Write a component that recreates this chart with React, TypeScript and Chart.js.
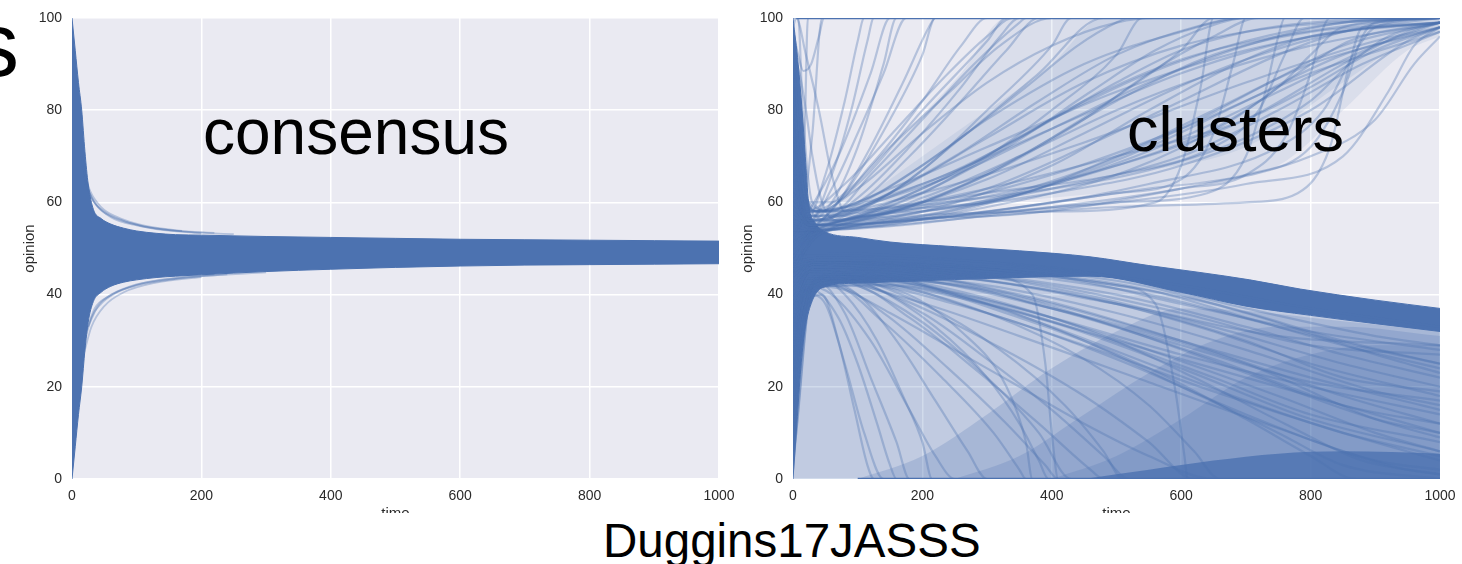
import React, { useEffect, useRef } from "react";
import { Chart, registerables } from "chart.js";

Chart.register(...registerables);

type Pt = [number, number];

const X_TICKS = [0, 200, 400, 600, 800, 1000];
const Y_TICKS = [0, 20, 40, 60, 80, 100];

// ---------- Left panel: consensus ----------
const consensusTop: Pt[] = [
  [0, 100], [5, 93], [10, 86], [15, 80], [20, 71], [25, 64], [33, 58.5], [45, 56.5], [60, 55.3],
  [80, 54.4], [100, 53.8], [130, 53.3], [160, 53], [200, 52.9], [300, 52.6], [400, 52.4],
  [500, 52.2], [600, 52], [700, 51.9], [800, 51.8], [900, 51.7], [1000, 51.6],
];
const consensusBottom: Pt[] = [
  [0, 0], [5, 7], [10, 14], [15, 20], [20, 28], [25, 34], [33, 38.5], [45, 40.5], [60, 41.8],
  [80, 42.7], [100, 43.2], [130, 43.7], [160, 44], [200, 44.3], [300, 45], [400, 45.5],
  [500, 45.9], [600, 46.2], [700, 46.4], [800, 46.5], [900, 46.6], [1000, 46.7],
];
const consensusFringe: Pt[][] = [
  [[15, 70], [25, 63], [40, 59], [60, 57], [90, 55.5], [130, 54.2], [200, 53.3]],
  [[18, 66], [30, 61], [50, 58], [80, 56], [120, 54.6], [180, 53.6], [250, 53.1]],
  [[20, 64], [35, 60], [60, 56.8], [100, 55], [150, 54], [220, 53.4]],
  [[16, 68], [28, 62.5], [45, 59], [70, 56.8], [110, 55], [170, 53.8]],
  [[20, 30], [30, 35], [45, 38], [70, 40.5], [110, 42.5], [160, 43.6], [220, 44.4]],
  [[22, 32], [35, 37], [55, 39.5], [90, 41.8], [140, 43.2], [200, 44], [300, 44.8]],
  [[25, 33], [40, 37.5], [65, 40.3], [100, 42], [160, 43.4], [240, 44.4]],
  [[18, 27], [30, 33], [50, 37.5], [80, 40.5], [130, 42.6], [200, 43.8]],
];

// ---------- Right panel: clusters ----------
const clustersBandTop: Pt[] = [
  [0, 100], [8, 90], [14, 80], [19, 70], [24, 60], [35, 55.5], [50, 53.6], [100, 52.4],
  [150, 51.4], [250, 50.4], [350, 49.5], [459, 48.2], [550, 46.3], [629, 44.8], [706, 43.2],
  [784, 41.2], [900, 38.8], [1000, 37],
];
const clustersBandBottom: Pt[] = [
  [0, 0], [6, 12], [12, 24], [18, 32], [28, 38], [45, 41.5], [100, 42.5], [200, 43], [300, 43.5],
  [459, 44], [600, 40.5], [700, 37.5], [800, 35.5], [900, 33.7], [1000, 32],
];
const clustersLowerHaze1: Pt[] = [
  [100, 0], [200, 5], [300, 14], [400, 24], [500, 32], [600, 37], [700, 36.5], [800, 35], [900, 33.5], [1000, 32],
];
const clustersLowerHaze2: Pt[] = [
  [250, 0], [350, 5], [450, 14], [550, 23], [650, 30], [750, 33], [850, 33], [1000, 31],
];
const clustersLowerHaze3: Pt[] = [
  [400, 0], [500, 5], [600, 13], [700, 22], [800, 27], [900, 29], [1000, 29],
];
const clustersBottomSolid: Pt[] = [
  [450, 0], [550, 2], [650, 4], [750, 5.5], [850, 6], [1000, 5.5],
];
const clustersFanUpperA: Pt[] = [[40, 57], [100, 64], [180, 76], [260, 88], [330, 100], [1000, 100]];
const clustersFanLowerA: Pt[] = [[40, 57], [200, 58.5], [400, 61], [600, 64], [750, 68], [850, 80], [950, 93], [1000, 96]];
const clustersFanUpperB: Pt[] = [[100, 60], [250, 75], [400, 90], [480, 100], [1000, 100]];
const clustersFanLowerB: Pt[] = [[100, 60], [300, 62], [500, 66], [700, 72], [850, 86], [950, 95], [1000, 97]];
const clustersTopEdge: Pt[] = [[5, 100], [1000, 100]];
const clustersBottomEdge: Pt[] = [[100, 0], [1000, 0]];

const clustersUpper: Pt[][] = [
  [[0, 72], [25, 56], [60, 60], [100, 72], [140, 90], [160, 100], [1000, 100]],
  [[0, 60], [25, 55], [80, 62], [150, 78], [200, 92], [220, 100], [1000, 100]],
  [[0, 85], [15, 64], [40, 58], [100, 64], [200, 80], [300, 95], [330, 100], [1000, 100]],
  [[0, 48], [25, 54], [100, 58], [200, 67], [300, 80], [400, 94], [430, 100], [1000, 100]],
  [[0, 66], [25, 55], [100, 57], [200, 62], [300, 70], [400, 80], [500, 92], [540, 100], [1000, 100]],
  [[0, 52], [30, 54], [100, 56], [200, 60], [300, 66], [400, 74], [500, 83], [600, 93], [650, 100], [1000, 100]],
  [[0, 90], [20, 60], [60, 56], [150, 58], [300, 63], [450, 72], [600, 82], [750, 92], [850, 97], [1000, 100]],
  [[0, 45], [30, 53], [100, 55], [250, 58], [400, 64], [550, 72], [700, 82], [850, 92], [1000, 98]],
  [[0, 58], [30, 54], [150, 56], [300, 60], [450, 66], [600, 74], [750, 84], [900, 94], [1000, 99]],
  [[0, 78], [20, 57], [100, 57], [200, 61], [350, 70], [500, 80], [650, 88], [800, 94], [1000, 99]],
  [[0, 40], [30, 52], [100, 55], [250, 57], [400, 60], [550, 63], [700, 66], [800, 72], [850, 84], [880, 96], [900, 99], [1000, 100]],
  [[0, 50], [30, 53], [150, 55], [300, 57], [500, 59], [700, 60], [780, 62], [830, 72], [860, 90], [880, 98], [1000, 100]],
  [[0, 95], [10, 75], [30, 58], [80, 62], [150, 72], [250, 85], [320, 94], [400, 100], [1000, 100]],
  [[0, 100], [8, 100], [15, 80], [30, 60], [60, 58], [120, 66], [200, 78], [280, 90], [350, 99], [360, 100], [1000, 100]],
  [[0, 62], [25, 56], [60, 66], [90, 80], [115, 95], [125, 100], [1000, 100]],
  [[0, 98], [5, 100], [20, 92], [40, 80], [60, 66], [80, 58], [150, 62], [260, 74], [380, 88], [480, 100], [1000, 100]],
  [[0, 55], [30, 54], [200, 58], [400, 63], [600, 70], [750, 80], [880, 90], [1000, 97]],
  [[0, 70], [25, 56], [100, 59], [250, 66], [400, 76], [550, 86], [700, 94], [850, 99], [1000, 100]],
  [[0, 46], [40, 53], [200, 57], [350, 62], [500, 68], [650, 76], [750, 85], [800, 92], [850, 98], [1000, 100]],
  [[0, 82], [20, 58], [100, 60], [200, 68], [300, 78], [450, 90], [600, 97], [700, 100], [1000, 100]],
  [[0, 57], [30, 55], [150, 58], [300, 65], [450, 75], [580, 84], [700, 91], [850, 97], [1000, 99]],
  [[0, 63], [25, 55], [300, 58], [500, 62], [600, 65], [650, 75], [680, 90], [700, 100], [1000, 100]],
  [[0, 51], [30, 54], [400, 58], [560, 60], [600, 68], [630, 85], [650, 100], [1000, 100]],
  [[0, 74], [20, 57], [120, 58], [300, 63], [500, 70], [700, 78], [800, 85], [900, 93], [1000, 98]],
  [[0, 88], [12, 66], [40, 58], [100, 60], [180, 70], [260, 82], [330, 93], [380, 100], [1000, 100]],
  [[0, 54], [30, 54], [250, 57], [500, 60], [700, 64], [850, 70], [920, 84], [960, 94], [1000, 98]],
  [[0, 67], [25, 56], [200, 59], [400, 66], [600, 76], [800, 88], [1000, 97]],
  [[0, 92], [10, 88], [20, 80], [30, 70], [45, 60], [70, 56], [200, 58], [400, 62], [600, 68], [800, 80], [950, 95], [1000, 98]],
  [[0, 53], [40, 54], [200, 60], [350, 70], [500, 82], [650, 92], [800, 97], [1000, 99]],
  [[0, 61], [25, 56], [150, 62], [300, 74], [450, 86], [600, 94], [750, 98], [1000, 100]],
  [[0, 69], [20, 57], [100, 63], [200, 75], [300, 86], [400, 94], [500, 99], [560, 100], [1000, 100]],
  [[0, 47], [35, 54], [300, 60], [500, 70], [650, 80], [800, 90], [950, 96], [1000, 98]],
  [[0, 59], [30, 55], [200, 63], [400, 78], [550, 88], [700, 95], [850, 99], [1000, 100]],
  [[0, 76], [18, 58], [80, 64], [160, 76], [240, 88], [300, 96], [340, 100], [1000, 100]],
  [[0, 50], [10, 56], [18, 75], [23, 100], [1000, 100]],
  [[0, 52], [15, 57], [30, 75], [45, 100], [1000, 100]],
  [[0, 53], [20, 57], [70, 70], [120, 88], [150, 100], [1000, 100]],
  [[0, 97], [8, 92], [16, 88.5], [28, 90], [40, 96], [48, 100], [1000, 100]],
  [[0, 56], [30, 55], [350, 59], [550, 64], [750, 72], [820, 80], [870, 93], [900, 98], [1000, 100]],
  [[0, 64], [25, 55], [150, 60], [300, 70], [450, 82], [600, 91], [750, 96], [900, 99], [1000, 100]],
  [[0, 49], [35, 54], [250, 59], [450, 67], [600, 76], [750, 87], [850, 94], [1000, 99]],
  [[0, 80], [15, 62], [60, 58], [200, 64], [400, 76], [600, 88], [800, 96], [1000, 99]],
  [[0, 57], [30, 55], [120, 60], [250, 70], [380, 82], [500, 92], [620, 98], [700, 100], [1000, 100]],
  [[0, 44], [35, 53], [300, 57], [600, 63], [800, 70], [900, 78], [960, 90], [1000, 96]],
  [[0, 71], [20, 57], [200, 62], [450, 73], [700, 86], [900, 95], [1000, 98]],
  [[0, 86], [12, 65], [40, 58], [150, 63], [300, 72], [500, 84], [700, 93], [900, 98], [1000, 99]],
  [[0, 59], [28, 55], [100, 61], [180, 72], [260, 85], [320, 96], [350, 100], [1000, 100]],
  [[0, 68], [22, 56], [100, 58], [300, 62], [500, 66], [650, 72], [720, 80], [760, 92], [790, 100], [1000, 100]],
  [[0, 55], [30, 54], [400, 59], [600, 63], [700, 66], [760, 74], [800, 88], [820, 98], [830, 100], [1000, 100]],
  [[0, 62], [25, 56], [250, 60], [500, 68], [700, 78], [850, 90], [950, 97], [1000, 99]],
  [[0, 51], [30, 54], [150, 58], [300, 66], [450, 78], [550, 88], [650, 96], [720, 100], [1000, 100]],
  [[0, 93], [8, 78], [25, 60], [60, 60], [120, 68], [200, 82], [260, 94], [300, 100], [1000, 100]],
  [[0, 48], [30, 54], [70, 60], [120, 72], [170, 86], [210, 98], [220, 100], [1000, 100]],
  [[0, 65], [25, 56], [60, 63], [100, 75], [140, 88], [175, 100], [1000, 100]],
  [[0, 56], [20, 56], [50, 66], [80, 82], [100, 95], [110, 100], [1000, 100]],
  [[0, 73], [20, 58], [350, 62], [550, 67], [700, 74], [800, 82], [860, 90], [920, 96], [1000, 99]],
  [[0, 58], [30, 55], [500, 60], [640, 62], [700, 70], [730, 84], [750, 96], [760, 100], [1000, 100]],
  [[0, 46], [40, 53], [200, 58], [400, 68], [550, 80], [700, 91], [800, 96], [1000, 99]],
  [[0, 77], [18, 58], [200, 64], [350, 74], [500, 86], [600, 93], [700, 97], [800, 99], [1000, 100]],
  [[0, 60], [30, 55], [180, 61], [320, 71], [460, 84], [560, 93], [640, 98], [700, 100], [1000, 100]],
  [[0, 54], [35, 54], [300, 59], [520, 67], [680, 78], [780, 88], [860, 95], [1000, 99]],
  [[0, 66], [22, 56], [120, 61], [240, 72], [360, 85], [440, 94], [500, 99], [520, 100], [1000, 100]],
];

const clustersLower: Pt[][] = [
  [[0, 10], [10, 25], [25, 40], [50, 38], [80, 25], [110, 10], [140, 0], [1000, 0]],
  [[0, 30], [20, 42], [60, 40], [120, 30], [180, 15], [220, 5], [250, 0], [1000, 0]],
  [[0, 38], [25, 45], [100, 42], [200, 34], [300, 22], [380, 10], [430, 0], [1000, 0]],
  [[0, 20], [15, 38], [40, 44], [150, 40], [300, 30], [450, 18], [550, 8], [620, 0], [1000, 0]],
  [[0, 45], [30, 47], [150, 44], [300, 38], [450, 30], [600, 20], [750, 10], [850, 3], [1000, 0]],
  [[0, 5], [10, 22], [30, 42], [100, 45], [250, 40], [400, 33], [550, 25], [700, 17], [850, 10], [1000, 5]],
  [[0, 42], [30, 46], [200, 44], [400, 38], [600, 30], [800, 22], [1000, 15]],
  [[0, 34], [25, 44], [150, 43], [350, 37], [550, 28], [750, 18], [900, 10], [1000, 6]],
  [[0, 15], [12, 32], [35, 43], [80, 36], [120, 22], [160, 8], [180, 0], [1000, 0]],
  [[0, 48], [40, 47], [250, 45], [500, 40], [700, 33], [850, 27], [1000, 22]],
  [[0, 25], [20, 40], [60, 44], [200, 38], [320, 28], [420, 16], [480, 6], [510, 0], [1000, 0]],
  [[0, 2], [8, 15], [25, 38], [60, 42], [140, 36], [240, 24], [330, 12], [390, 3], [410, 0], [1000, 0]],
  [[0, 40], [30, 46], [300, 43], [500, 38], [650, 32], [800, 25], [1000, 18]],
  [[0, 12], [15, 35], [50, 44], [200, 41], [400, 34], [600, 24], [800, 13], [1000, 6]],
  [[0, 36], [25, 44], [100, 40], [160, 30], [220, 17], [270, 6], [300, 0], [1000, 0]],
  [[0, 28], [20, 41], [100, 43], [300, 36], [500, 26], [700, 14], [850, 6], [950, 2], [1000, 1]],
  [[0, 46], [30, 47], [300, 44], [370, 40], [390, 25], [400, 10], [410, 0], [1000, 0]],
  [[0, 44], [30, 47], [200, 46], [500, 42], [560, 38], [590, 20], [605, 5], [610, 0], [1000, 0]],
  [[0, 8], [10, 26], [30, 43], [120, 45], [350, 40], [600, 30], [850, 18], [1000, 12]],
  [[0, 47], [40, 48], [400, 44], [650, 38], [850, 30], [1000, 25]],
  [[0, 32], [20, 42], [80, 41], [150, 36], [250, 28], [350, 20], [450, 12], [550, 5], [650, 0], [1000, 0]],
  [[0, 18], [15, 36], [45, 40], [70, 30], [95, 15], [115, 3], [125, 0], [1000, 0]],
  [[0, 43], [30, 47], [250, 45], [450, 40], [650, 33], [850, 25], [1000, 20]],
  [[0, 22], [15, 40], [70, 43], [250, 38], [450, 29], [650, 19], [850, 10], [1000, 4]],
  [[0, 4], [5, 10], [30, 42], [200, 44], [500, 38], [750, 31], [1000, 29]],
  [[0, 39], [30, 46], [350, 43], [600, 36], [800, 29], [1000, 27]],
  [[0, 49], [50, 49], [300, 47], [600, 42], [800, 37], [1000, 33]],
  [[0, 26], [20, 42], [120, 44], [400, 37], [700, 25], [900, 13], [1000, 9]],
  [[0, 41], [25, 45], [80, 40], [130, 30], [170, 18], [200, 8], [215, 0], [1000, 0]],
  [[0, 33], [25, 43], [160, 41], [260, 32], [330, 20], [360, 8], [370, 0], [1000, 0]],
  [[0, 37], [25, 45], [200, 42], [400, 35], [600, 27], [800, 20], [1000, 14]],
  [[0, 24], [15, 40], [100, 44], [300, 38], [500, 30], [700, 22], [850, 16], [1000, 10]],
  [[0, 45], [30, 47], [300, 45], [550, 40], [750, 33], [900, 28], [1000, 25]],
  [[0, 16], [12, 36], [60, 44], [250, 40], [450, 32], [650, 22], [800, 14], [1000, 8]],
  [[0, 31], [20, 43], [200, 43], [400, 37], [600, 29], [800, 21], [1000, 17]],
  [[0, 43], [30, 47], [400, 44], [600, 38], [800, 32], [1000, 28]],
  [[0, 6], [10, 25], [40, 44], [300, 41], [500, 33], [700, 23], [900, 13], [1000, 10]],
  [[0, 35], [25, 44], [250, 42], [450, 35], [650, 26], [850, 16], [1000, 12]],
  [[0, 47], [40, 48], [450, 45], [700, 37], [900, 31], [1000, 29]],
  [[0, 21], [15, 39], [80, 43], [200, 36], [300, 26], [400, 15], [480, 5], [520, 0], [1000, 0]],
  [[0, 29], [20, 42], [150, 42], [350, 35], [550, 24], [700, 13], [800, 5], [870, 0], [1000, 0]],
  [[0, 40], [30, 46], [120, 42], [220, 33], [300, 22], [350, 12], [380, 4], [395, 0], [1000, 0]],
  [[0, 13], [10, 30], [30, 41], [70, 35], [100, 25], [130, 12], [150, 3], [160, 0], [1000, 0]],
  [[0, 44], [30, 47], [350, 45], [550, 41], [700, 35], [850, 29], [1000, 24]],
  [[0, 19], [15, 38], [50, 43], [180, 39], [350, 31], [550, 21], [750, 11], [900, 4], [1000, 2]],
  [[0, 38], [25, 45], [300, 42], [500, 36], [700, 28], [900, 19], [1000, 16]],
  [[0, 9], [10, 27], [35, 43], [150, 42], [300, 36], [450, 26], [550, 16], [620, 6], [660, 0], [1000, 0]],
  [[0, 46], [35, 47], [500, 43], [700, 36], [900, 27], [1000, 23]],
  [[0, 27], [20, 41], [90, 42], [180, 35], [280, 24], [380, 12], [460, 2], [480, 0], [1000, 0]],
  [[0, 42], [30, 46], [250, 44], [500, 38], [700, 30], [850, 22], [1000, 19]],
  [[0, 23], [15, 40], [60, 42], [140, 34], [230, 22], [310, 10], [350, 2], [360, 0], [1000, 0]],
  [[0, 36], [25, 45], [180, 43], [330, 38], [480, 31], [620, 22], [760, 12], [880, 4], [1000, 1]],
];

// ---------- styling ----------
const BLUE = "rgb(76,114,176)";
const BLUE_LINE = "rgba(76,114,176,0.34)";
const BG = "#EAEAF2";
const TEXT = "#2a2a2a";
const FONT = '"Liberation Sans", Arial, Helvetica, sans-serif';

const toXY = (pts: Pt[]) => pts.map(([x, y]) => ({ x, y }));

const lineDs = (pts: Pt[], color: string, width: number) => ({
  data: toXY(pts),
  borderColor: color,
  borderWidth: width,
  pointRadius: 0,
  fill: false,
  cubicInterpolationMode: "monotone" as const,
});

const fillDs = (pts: Pt[], color: string, fill: any, border = 0) => ({
  data: toXY(pts),
  borderColor: color,
  borderWidth: border,
  backgroundColor: color,
  pointRadius: 0,
  fill,
  cubicInterpolationMode: "monotone" as const,
});

const alpha = (a: number) => `rgba(76,114,176,${a})`;

const bgPlugin = {
  id: "plotBg",
  beforeDraw(chart: any) {
    const { ctx, chartArea: a } = chart;
    ctx.save();
    ctx.fillStyle = BG;
    ctx.fillRect(a.left, a.top, a.right - a.left, a.bottom - a.top);
    ctx.restore();
  },
};

function makeOptions(yWidth: number, padRight: number): any {
  return {
    animation: false,
    responsive: false,
    maintainAspectRatio: false,
    events: [],
    layout: { padding: { top: 18, right: padRight, left: 0, bottom: 0 } },
    plugins: { legend: { display: false }, tooltip: { enabled: false } },
    scales: {
      x: {
        type: "linear",
        min: 0,
        max: 1000,
        border: { display: false },
        grid: { color: "#ffffff", lineWidth: 1.5, drawTicks: false },
        afterBuildTicks: (s: any) => {
          s.ticks = X_TICKS.map((v) => ({ value: v }));
        },
        ticks: {
          padding: 9,
          color: TEXT,
          maxRotation: 0,
          autoSkip: false,
          font: { family: FONT, size: 14 },
          callback: (v: any) => String(v),
        },
        title: { display: true, text: "time", color: TEXT, font: { family: FONT, size: 15 }, padding: { top: 0, bottom: 7 } },
        afterFit: (s: any) => {
          s.height = 51;
          s.paddingLeft = 0;
          s.paddingRight = 0;
        },
      },
      y: {
        type: "linear",
        min: 0,
        max: 100,
        border: { display: false },
        grid: { color: "#ffffff", lineWidth: 1.5, drawTicks: false },
        afterBuildTicks: (s: any) => {
          s.ticks = Y_TICKS.map((v) => ({ value: v }));
        },
        ticks: { padding: 10, color: TEXT, autoSkip: false, font: { family: FONT, size: 14 }, callback: (v: any) => String(v) },
        title: { display: true, text: "opinion", color: TEXT, font: { family: FONT, size: 15 }, padding: { top: 21, bottom: 0 } },
        afterFit: (s: any) => {
          s.width = yWidth;
          s.paddingTop = 0;
          s.paddingBottom = 0;
        },
      },
    },
  };
}

function leftDatasets() {
  return [
    ...consensusFringe.map((p) => lineDs(p, BLUE_LINE, 1.8)),
    fillDs(consensusTop, BLUE, "+1", 1),
    fillDs(consensusBottom, BLUE, false, 1),
  ];
}

function rightDatasets() {
  return [
    lineDs(clustersTopEdge, BLUE, 2.5),
    lineDs(clustersBottomEdge, BLUE, 2.5),
    ...clustersUpper.map((p) => lineDs(p, BLUE_LINE, 2.2)),
    ...clustersLower.map((p) => lineDs(p, BLUE_LINE, 2.2)),
    fillDs(clustersBandTop, BLUE, "+1", 1),
    fillDs(clustersBandBottom, BLUE, false, 1),
    fillDs(clustersBottomSolid, alpha(0.8), "origin"),
    fillDs(clustersLowerHaze3, alpha(0.22), "origin"),
    fillDs(clustersLowerHaze2, alpha(0.22), "origin"),
    fillDs(clustersLowerHaze1, alpha(0.22), "origin"),
    fillDs(clustersBandBottom, alpha(0.26), "origin"),
    fillDs(clustersFanUpperB, alpha(0.1), "+1"),
    fillDs(clustersFanLowerB, alpha(0), false),
    fillDs(clustersFanUpperA, alpha(0.1), "+1"),
    fillDs(clustersFanLowerA, alpha(0), false),
  ];
}

function Panel(props: { left: number; width: number; yWidth: number; padRight: number; build: () => any[] }) {
  const ref = useRef<HTMLCanvasElement>(null);
  useEffect(() => {
    const chart = new Chart(ref.current as HTMLCanvasElement, {
      type: "line",
      data: { datasets: props.build() },
      options: makeOptions(props.yWidth, props.padRight),
      plugins: [bgPlugin],
    });
    return () => chart.destroy();
  }, []);
  return (
    <canvas
      ref={ref}
      width={props.width}
      height={530}
      style={{ position: "absolute", left: props.left, top: 0, width: props.width, height: 530 }}
    />
  );
}

const bigText = (text: string, left: number, top: number, size: number) => (
  <div
    style={{
      position: "absolute",
      left,
      top,
      fontFamily: FONT,
      fontSize: size,
      lineHeight: `${size}px`,
      color: "#000",
      whiteSpace: "nowrap",
    }}
  >
    {text}
  </div>
);

export default function App() {
  return (
    <div
      style={{
        position: "fixed",
        left: 0,
        top: 0,
        width: 1462,
        height: 564,
        background: "#fff",
        overflow: "hidden",
      }}
    >
      <Panel left={0} width={740} yWidth={72} padRight={21} build={leftDatasets} />
      <Panel left={718} width={744} yWidth={75} padRight={22} build={rightDatasets} />
      <div style={{ position: "absolute", left: 0, top: 513, width: 1462, height: 51, background: "#fff" }} />
      {bigText("s", -26, 0, 90)}
      {bigText("consensus", 203, 100, 64)}
      {bigText("clusters", 1127, 98, 63)}
      {bigText("Duggins17JASSS", 603, 517, 47.5)}
    </div>
  );
}
